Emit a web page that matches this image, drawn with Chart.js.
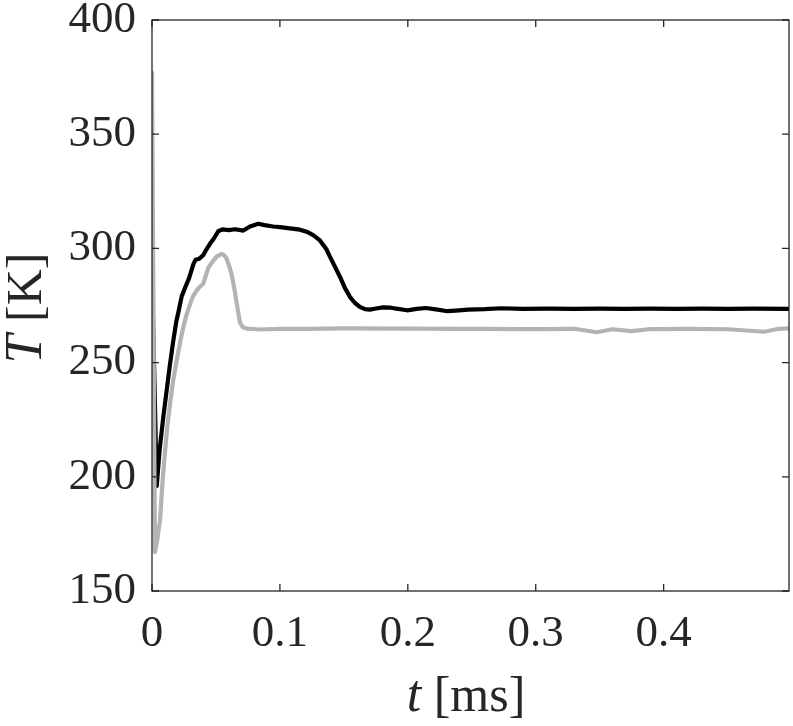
<!DOCTYPE html>
<html>
<head>
<meta charset="utf-8">
<script src="https://cdn.jsdelivr.net/npm/chart.js@4"></script>
<style>
    html, body { margin: 0; padding: 0; background: #fff; }
    #graf { display: block; }
</style>
</head>
<body>
<canvas id="graf" width="793" height="726"></canvas>
<script>
/* temperaturforløb T(t) for to simuleringer */

const xTicks = [0, 0.1, 0.2, 0.3, 0.4];
const yTicks = [150, 200, 250, 300, 350, 400];

/* sort kurve */
const tSort = [0, 0.0037, 0.006, 0.0088, 0.0115, 0.014, 0.0165, 0.019, 0.021, 0.0232, 0.026, 0.029, 0.0323, 0.034, 0.037, 0.040, 0.0425, 0.0453, 0.048, 0.0518, 0.055, 0.06, 0.065, 0.0714, 0.0766, 0.0831, 0.088, 0.0948, 0.1, 0.1078, 0.1156, 0.1209, 0.126, 0.1313, 0.1365, 0.139, 0.143, 0.1469, 0.151, 0.1547, 0.1585, 0.1625, 0.1665, 0.1703, 0.175, 0.1807, 0.186, 0.191, 0.1995, 0.207, 0.214, 0.222, 0.231, 0.24, 0.247, 0.26, 0.273, 0.29, 0.31, 0.33, 0.35, 0.37, 0.39, 0.41, 0.43, 0.45, 0.47, 0.498];
const TSort = [290, 196, 212, 226, 238, 249, 259, 268, 273, 279, 283, 287, 293, 295, 295.5, 297, 299.5, 302, 304, 307.5, 308.3, 308, 308.4, 307.8, 309.6, 310.8, 310.2, 309.6, 309.3, 308.8, 308.2, 307.3, 305.8, 303.5, 299.5, 296.5, 292, 287.6, 282.5, 278.8, 276.2, 274.4, 273.4, 273.2, 273.7, 274.2, 274.1, 273.6, 272.9, 273.5, 273.9, 273.3, 272.5, 272.9, 273.2, 273.4, 273.8, 273.5, 273.6, 273.5, 273.6, 273.5, 273.6, 273.5, 273.6, 273.5, 273.6, 273.5];

/* grå kurve */
const tGraa = [0, 0.0023, 0.004, 0.0063, 0.008, 0.010, 0.012, 0.0141, 0.0165, 0.0193, 0.022, 0.0245, 0.027, 0.0297, 0.032, 0.0349, 0.037, 0.040, 0.042, 0.044, 0.047, 0.0505, 0.0544, 0.0565, 0.0583, 0.0605, 0.0623, 0.0645, 0.0662, 0.0688, 0.071, 0.074, 0.08, 0.0844, 0.1, 0.12, 0.15, 0.2, 0.25, 0.3, 0.33, 0.3477, 0.36, 0.3748, 0.39, 0.42, 0.45, 0.4788, 0.49, 0.498];
const TGraa = [377, 167, 172, 181, 196, 210, 222, 232, 242, 251, 259, 265.5, 271, 275.5, 279, 281.5, 283, 284.5, 288, 291.5, 294, 296.4, 297.6, 297, 295.5, 292, 288.5, 282, 276, 267.5, 265.5, 264.9, 264.7, 264.5, 264.8, 264.8, 265, 264.9, 264.8, 264.7, 264.8, 263.3, 264.6, 263.8, 264.7, 264.8, 264.6, 263.5, 264.8, 265];

const tekstFarve = '#262626';
const skrift = '"Liberation Serif", "DejaVu Serif", serif';

function tilPunkter(xs, ys) {
    const punkter = [];
    for (let i = 0; i < xs.length; i++) {
        punkter.push({ x: xs[i], y: ys[i] });
    }
    return punkter;
}

/* tegner ramme med indadvendte tick-streger og aksetitler med kursiv variabel */
const rammePlugin = {
    id: 'ramme',
    afterDraw(chart) {
        const ctx = chart.ctx;
        const a = chart.chartArea;
        const x = chart.scales.x;
        const y = chart.scales.y;
        const tl = 7;

        ctx.save();
        ctx.strokeStyle = tekstFarve;
        ctx.lineWidth = 1.3;
        ctx.strokeRect(a.left, a.top, a.right - a.left, a.bottom - a.top);

        ctx.beginPath();
        for (const v of xTicks) {
            const px = x.getPixelForValue(v);
            ctx.moveTo(px, a.bottom); ctx.lineTo(px, a.bottom - tl);
            ctx.moveTo(px, a.top); ctx.lineTo(px, a.top + tl);
        }
        for (const v of yTicks) {
            const py = y.getPixelForValue(v);
            ctx.moveTo(a.left, py); ctx.lineTo(a.left + tl, py);
            ctx.moveTo(a.right, py); ctx.lineTo(a.right - tl, py);
        }
        ctx.stroke();

        /* aksetitler: kursiv variabel + enhed i parentes */
        ctx.fillStyle = tekstFarve;
        ctx.textBaseline = 'alphabetic';
        const kursiv = 'italic 52px ' + skrift;
        const normal = '50px ' + skrift;

        function tegnTitel(variabel, enhed, cx, cy, rot) {
            ctx.save();
            ctx.translate(cx, cy);
            ctx.rotate(rot);
            ctx.font = kursiv;
            const b1 = ctx.measureText(variabel).width;
            ctx.font = normal;
            const b2 = ctx.measureText(enhed).width;
            const start = -(b1 + b2) / 2;
            ctx.textAlign = 'left';
            ctx.font = kursiv;
            ctx.fillText(variabel, start, 0);
            ctx.font = normal;
            ctx.fillText(enhed, start + b1, 0);
            ctx.restore();
        }

        tegnTitel('t', ' [ms]', 466, 711, 0);
        tegnTitel('T', ' [K]', 41, 308, -Math.PI / 2);
        ctx.restore();
    }
};

new Chart(document.getElementById('graf'), {
    type: 'line',
    data: {
        datasets: [
            {
                label: 'grå',
                data: tilPunkter(tGraa, TGraa),
                borderColor: '#b3b3b3',
                borderWidth: 4.2,
                borderJoinStyle: 'round',
                borderCapStyle: 'round',
                pointRadius: 0,
                tension: 0,
                fill: false
            },
            {
                label: 'sort',
                data: tilPunkter(tSort, TSort),
                borderColor: '#000000',
                borderWidth: 4.2,
                borderJoinStyle: 'round',
                borderCapStyle: 'round',
                pointRadius: 0,
                tension: 0,
                fill: false
            }
        ]
    },
    options: {
        responsive: false,
        animation: false,
        events: [],
        layout: { padding: { top: 20, right: 4, left: 0, bottom: 0 } },
        plugins: {
            legend: { display: false },
            tooltip: { enabled: false }
        },
        scales: {
            x: {
                type: 'linear',
                min: 0,
                max: 0.498,
                grid: { display: false, drawTicks: false },
                border: { display: false },
                afterBuildTicks: (s) => { s.ticks = xTicks.map(v => ({ value: v })); },
                afterFit: (s) => { s.height = 135; s.paddingLeft = 0; s.paddingRight = 0; },
                ticks: {
                    color: tekstFarve,
                    font: { family: skrift, size: 45 },
                    padding: 16,
                    maxRotation: 0,
                    autoSkip: false,
                    callback: (v) => String(Math.round(v * 10) / 10)
                }
            },
            y: {
                type: 'linear',
                min: 150,
                max: 400,
                grid: { display: false, drawTicks: false },
                border: { display: false },
                afterBuildTicks: (s) => { s.ticks = yTicks.map(v => ({ value: v })); },
                afterFit: (s) => { s.width = 152; s.paddingTop = 0; s.paddingBottom = 0; },
                ticks: {
                    color: tekstFarve,
                    font: { family: skrift, size: 45 },
                    padding: 16,
                    autoSkip: false,
                    callback: (v) => String(v)
                }
            }
        }
    },
    plugins: [rammePlugin]
});
</script>
</body>
</html>
